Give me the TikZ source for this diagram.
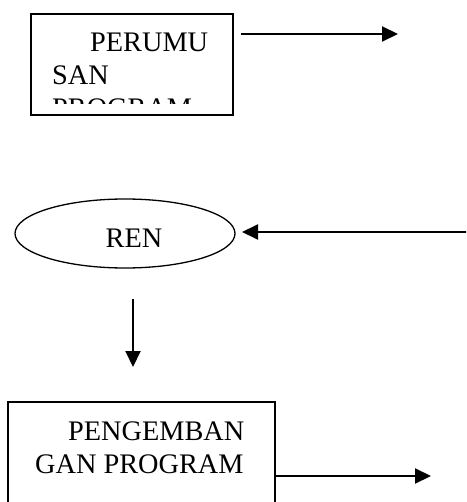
\documentclass[tikz,border=0pt]{standalone}
\usepackage{fontspec}
\setmainfont{Liberation Serif}
\usetikzlibrary{arrows.meta,shapes.geometric}
\begin{document}
\begin{tikzpicture}[x=1pt,y=-1pt,
  lbl/.style={anchor=base west,inner sep=0pt,font=\fontsize{28.3}{33}\selectfont},
  frame/.style={draw,line width=1.3pt,rectangle,inner sep=0pt},
  conn/.style={line width=2pt,-{Triangle[length=16pt,width=15pt]}}]
\clip (0,0) rectangle (466,502);
\fill[white] (0,0) rectangle (466,502);
% box 1
\node[frame,minimum width=202pt,minimum height=101pt] (box1) at (132,64.5) {};
\begin{scope}
\clip (31,14) rectangle (233,103.5);
\node[lbl] (t1) at (90,52) {PERUMU};
\node[lbl] (t2) at (52,85) {SAN};
\node[lbl] (t3) at (52,118) {PROGRAM};
\end{scope}
\coordinate (a1s) at (241,34);
\coordinate (a1e) at (398,34);
\draw[conn] (a1s) -- (a1e);
% ellipse
\node[draw,ellipse,line width=1.3pt,minimum width=220pt,minimum height=69pt,inner sep=0pt] (ren) at (125,233.5) {};
\node[lbl,anchor=base] (rent) at (134,247) {REN};
\coordinate (a2s) at (467,232);
\coordinate (a2e) at (242,232);
\draw[conn] (a2s) -- (a2e);
\coordinate (a3s) at (133,299);
\coordinate (a3e) at (133,367);
\draw[conn] (a3s) -- (a3e);
% box 3
\node[frame,minimum width=267pt,minimum height=120pt] (box3) at (141.5,462) {};
\node[lbl] (p1) at (68,440) {PENGEMBAN};
\node[lbl] (p2) at (35,473) {GAN PROGRAM};
\coordinate (a4s) at (275,476);
\coordinate (a4e) at (431,476);
\draw[conn] (a4s) -- (a4e);
\end{tikzpicture}
\end{document}
